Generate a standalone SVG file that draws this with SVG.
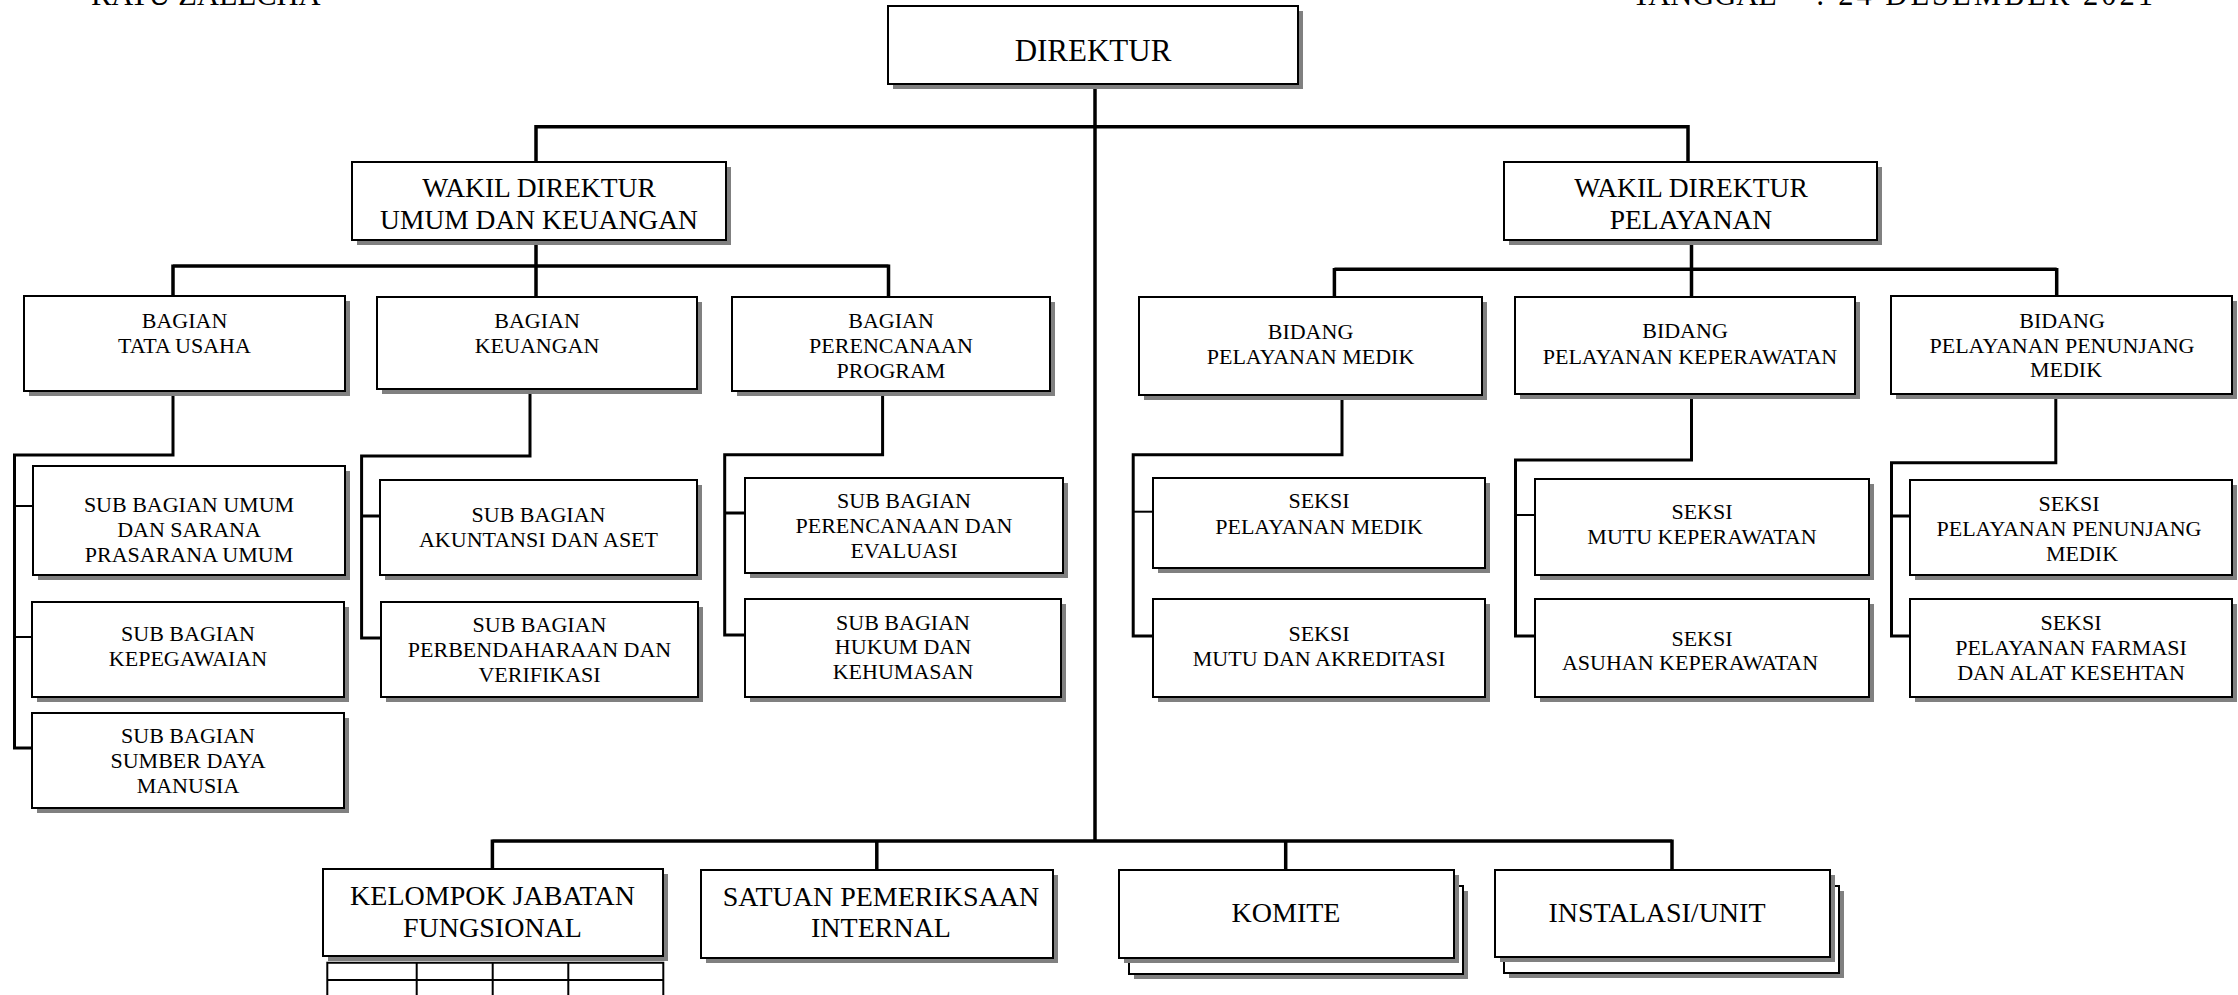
<svg xmlns="http://www.w3.org/2000/svg" width="2238" height="995" viewBox="0 0 2238 995">
<style>
.sh{fill:#808080}
.bx{fill:#fff;stroke:#000;stroke-width:2}
.t{font-family:"Liberation Serif","Times New Roman",serif;text-anchor:middle;fill:#000}
.hd{font-family:"Liberation Serif","Times New Roman",serif;fill:#000;font-size:30.5px}
.f31{font-size:31px}
.f27{font-size:27.5px}
.f28{font-size:28px}
.f22{font-size:22px}
.c{stroke:#000;stroke-width:3.5;fill:none}
.c2{stroke:#000;stroke-width:3;fill:none}
.tk{stroke:#000;stroke-width:2;fill:none}
.tb{stroke:#000;stroke-width:2;fill:none}
</style>
<rect width="2238" height="995" fill="#fff"/>
<g id="header">
<text class="hd" x="91" y="5">RATU ZALECHA</text>
<text class="hd" x="1632" y="5">TANGGAL</text>
<text class="hd" x="1816" y="5" textLength="337">: 24 DESEMBER 2021</text>
</g>
<g id="connectors">
<path class="c" d="M1095 84V841"/>
<path class="c" d="M536 126.7H1688M536 125V162M1688 125V162"/>
<path class="c" d="M536 240V296M173 266H888.5M173 264.5V296M888.5 264.5V297"/>
<path class="c" d="M1691.5 240V297M1334.4 269.3H2056.7M1334.4 268V297M2056.7 268V296"/>
<path class="c" d="M492.4 841H1672M492.4 839.5V869M876.8 839.5V870M1285.7 839.5V870M1672 839.5V870"/>
<path class="c2" d="M173 391V455H14.5V748H31"/>
<path class="tk" d="M14.5 506H33M14.5 637H32"/>
<path class="c2" d="M530 391V456H361.6V638H381"/>
<path class="c2" d="M361.6 516H380"/>
<path class="c2" d="M882.6 391V454.7H724.7V635H745"/>
<path class="c2" d="M724.7 513H745"/>
<path class="c2" d="M1342 395V454.7H1133.2V636H1153"/>
<path class="tk" d="M1133.2 511.7H1153"/>
<path class="c2" d="M1691.5 394V460H1515.5V636H1535"/>
<path class="tk" d="M1515.5 515H1535"/>
<path class="c2" d="M2055.8 394V462.7H1891.5V636H1910"/>
<path class="c2" d="M1891.5 516H1910"/>
</g>
<g id="direktur">
<rect class="sh" x="893" y="11" width="410" height="78"/><rect class="bx" x="888" y="6" width="410" height="78"/>
<text class="t f31" x="1093" y="61">DIREKTUR</text>
</g>
<g id="wadir-umum">
<rect class="sh" x="357" y="167" width="374" height="78"/><rect class="bx" x="352" y="162" width="374" height="78"/>
<text class="t f27" x="539" y="197">WAKIL DIREKTUR</text>
<text class="t f27" x="539" y="229">UMUM DAN KEUANGAN</text>
</g>
<g id="wadir-pelayanan">
<rect class="sh" x="1509" y="167" width="373" height="78"/><rect class="bx" x="1504" y="162" width="373" height="78"/>
<text class="t f27" x="1691" y="197">WAKIL DIREKTUR</text>
<text class="t f27" x="1691" y="229">PELAYANAN</text>
</g>
<g id="bagian-tata-usaha">
<rect class="sh" x="29" y="301" width="321" height="95"/><rect class="bx" x="24" y="296" width="321" height="95"/>
<text class="t f22" x="184.5" y="328">BAGIAN</text>
<text class="t f22" x="184.5" y="353">TATA USAHA</text>
</g>
<g id="bagian-keuangan">
<rect class="sh" x="382" y="302" width="320" height="92"/><rect class="bx" x="377" y="297" width="320" height="92"/>
<text class="t f22" x="537" y="328">BAGIAN</text>
<text class="t f22" x="537" y="353">KEUANGAN</text>
</g>
<g id="bagian-perencanaan">
<rect class="sh" x="737" y="302" width="318" height="94"/><rect class="bx" x="732" y="297" width="318" height="94"/>
<text class="t f22" x="891" y="328">BAGIAN</text>
<text class="t f22" x="891" y="353">PERENCANAAN</text>
<text class="t f22" x="891" y="378">PROGRAM</text>
</g>
<g id="bidang-pelayanan-medik">
<rect class="sh" x="1144" y="302" width="343" height="98"/><rect class="bx" x="1139" y="297" width="343" height="98"/>
<text class="t f22" x="1310.5" y="339">BIDANG</text>
<text class="t f22" x="1310.5" y="364">PELAYANAN MEDIK</text>
</g>
<g id="bidang-keperawatan">
<rect class="sh" x="1520" y="302" width="340" height="97"/><rect class="bx" x="1515" y="297" width="340" height="97"/>
<text class="t f22" x="1685" y="338">BIDANG</text>
<text class="t f22" x="1690" y="364">PELAYANAN KEPERAWATAN</text>
</g>
<g id="bidang-penunjang">
<rect class="sh" x="1896" y="301" width="341" height="98"/><rect class="bx" x="1891" y="296" width="341" height="98"/>
<text class="t f22" x="2062" y="328">BIDANG</text>
<text class="t f22" x="2062" y="353">PELAYANAN PENUNJANG</text>
<text class="t f22" x="2066" y="377">MEDIK</text>
</g>
<g id="sub-umum">
<rect class="sh" x="38" y="471" width="312" height="109"/><rect class="bx" x="33" y="466" width="312" height="109"/>
<text class="t f22" x="189" y="512">SUB BAGIAN UMUM</text>
<text class="t f22" x="189" y="537">DAN SARANA</text>
<text class="t f22" x="189" y="562">PRASARANA UMUM</text>
</g>
<g id="sub-kepegawaian">
<rect class="sh" x="37" y="607" width="312" height="95"/><rect class="bx" x="32" y="602" width="312" height="95"/>
<text class="t f22" x="188" y="641">SUB BAGIAN</text>
<text class="t f22" x="188" y="666">KEPEGAWAIAN</text>
</g>
<g id="sub-sdm">
<rect class="sh" x="37" y="718" width="312" height="95"/><rect class="bx" x="32" y="713" width="312" height="95"/>
<text class="t f22" x="188" y="743">SUB BAGIAN</text>
<text class="t f22" x="188" y="768">SUMBER DAYA</text>
<text class="t f22" x="188" y="793">MANUSIA</text>
</g>
<g id="sub-akuntansi">
<rect class="sh" x="385" y="485" width="317" height="95"/><rect class="bx" x="380" y="480" width="317" height="95"/>
<text class="t f22" x="538.5" y="522">SUB BAGIAN</text>
<text class="t f22" x="538.5" y="547">AKUNTANSI DAN ASET</text>
</g>
<g id="sub-perbendaharaan">
<rect class="sh" x="386" y="607" width="317" height="95"/><rect class="bx" x="381" y="602" width="317" height="95"/>
<text class="t f22" x="539.5" y="632">SUB BAGIAN</text>
<text class="t f22" x="539.5" y="657">PERBENDAHARAAN DAN</text>
<text class="t f22" x="539.5" y="682">VERIFIKASI</text>
</g>
<g id="sub-perencanaan-evaluasi">
<rect class="sh" x="750" y="483" width="318" height="95"/><rect class="bx" x="745" y="478" width="318" height="95"/>
<text class="t f22" x="904" y="508">SUB BAGIAN</text>
<text class="t f22" x="904" y="533">PERENCANAAN DAN</text>
<text class="t f22" x="904" y="558">EVALUASI</text>
</g>
<g id="sub-hukum">
<rect class="sh" x="750" y="604" width="316" height="98"/><rect class="bx" x="745" y="599" width="316" height="98"/>
<text class="t f22" x="903" y="630">SUB BAGIAN</text>
<text class="t f22" x="903" y="654">HUKUM DAN</text>
<text class="t f22" x="903" y="679">KEHUMASAN</text>
</g>
<g id="seksi-pelayanan-medik">
<rect class="sh" x="1158" y="483" width="332" height="90"/><rect class="bx" x="1153" y="478" width="332" height="90"/>
<text class="t f22" x="1319" y="508">SEKSI</text>
<text class="t f22" x="1319" y="534">PELAYANAN MEDIK</text>
</g>
<g id="seksi-mutu-akreditasi">
<rect class="sh" x="1158" y="604" width="332" height="98"/><rect class="bx" x="1153" y="599" width="332" height="98"/>
<text class="t f22" x="1319" y="641">SEKSI</text>
<text class="t f22" x="1319" y="666">MUTU DAN AKREDITASI</text>
</g>
<g id="seksi-mutu-keperawatan">
<rect class="sh" x="1540" y="484" width="334" height="96"/><rect class="bx" x="1535" y="479" width="334" height="96"/>
<text class="t f22" x="1702" y="519">SEKSI</text>
<text class="t f22" x="1702" y="544">MUTU KEPERAWATAN</text>
</g>
<g id="seksi-asuhan-keperawatan">
<rect class="sh" x="1540" y="604" width="334" height="98"/><rect class="bx" x="1535" y="599" width="334" height="98"/>
<text class="t f22" x="1702" y="646">SEKSI</text>
<text class="t f22" x="1690" y="670">ASUHAN KEPERAWATAN</text>
</g>
<g id="seksi-penunjang-medik">
<rect class="sh" x="1915" y="485" width="322" height="95"/><rect class="bx" x="1910" y="480" width="322" height="95"/>
<text class="t f22" x="2069" y="511">SEKSI</text>
<text class="t f22" x="2069" y="536">PELAYANAN PENUNJANG</text>
<text class="t f22" x="2082" y="561">MEDIK</text>
</g>
<g id="seksi-farmasi">
<rect class="sh" x="1915" y="604" width="322" height="98"/><rect class="bx" x="1910" y="599" width="322" height="98"/>
<text class="t f22" x="2071" y="630">SEKSI</text>
<text class="t f22" x="2071" y="655">PELAYANAN FARMASI</text>
<text class="t f22" x="2071" y="680">DAN ALAT KESEHTAN</text>
</g>
<g id="kelompok-jabatan-fungsional">
<rect class="sh" x="328" y="874" width="340" height="87"/><rect class="bx" x="323" y="869" width="340" height="87"/>
<text class="t f28" x="492.5" y="905">KELOMPOK JABATAN</text>
<text class="t f28" x="492.5" y="937">FUNGSIONAL</text>
<path class="tb" d="M327.3 1000V962.7H663.3V1000M327.3 980H663.3M416.7 962.7V1000M492.7 962.7V1000M568.3 962.7V1000"/>
</g>
<g id="satuan-pemeriksaan-internal">
<rect class="sh" x="706" y="875" width="352" height="88"/><rect class="bx" x="701" y="870" width="352" height="88"/>
<text class="t f28" x="881" y="906">SATUAN PEMERIKSAAN</text>
<text class="t f28" x="881" y="937">INTERNAL</text>
</g>
<g id="komite">
<rect class="sh" x="1134" y="891" width="334" height="88"/><rect class="bx" x="1129" y="886" width="334" height="88"/>
<rect class="sh" x="1124" y="875" width="335" height="88"/><rect class="bx" x="1119" y="870" width="335" height="88"/>
<text class="t f28" x="1286" y="922">KOMITE</text>
</g>
<g id="instalasi-unit">
<rect class="sh" x="1509" y="891" width="335" height="87"/><rect class="bx" x="1504" y="886" width="335" height="87"/>
<rect class="sh" x="1500" y="875" width="335" height="87"/><rect class="bx" x="1495" y="870" width="335" height="87"/>
<text class="t f28" x="1657" y="922">INSTALASI/UNIT</text>
</g>
</svg>
